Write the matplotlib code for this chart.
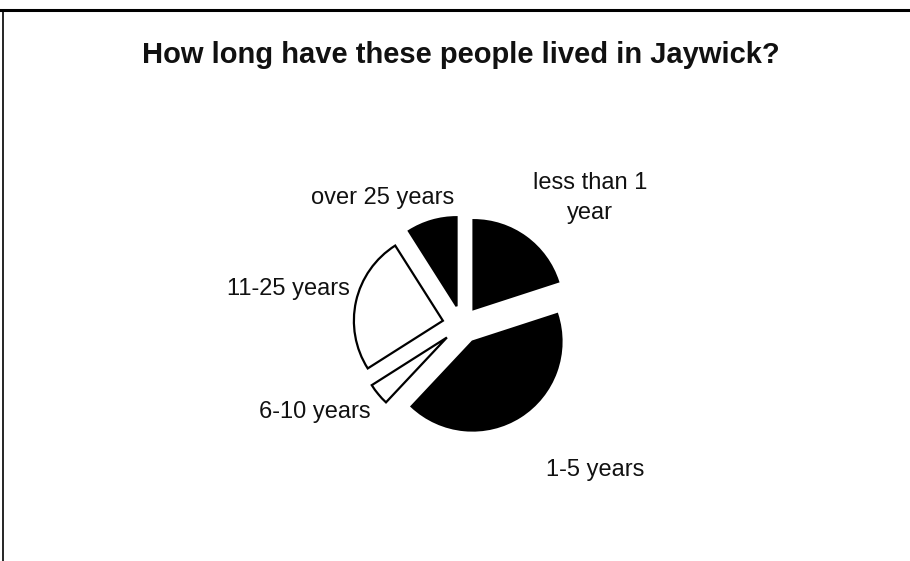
import matplotlib
matplotlib.use("Agg")
import matplotlib.pyplot as plt
from matplotlib.lines import Line2D

categories = ["less than 1\nyear", "1-5 years", "6-10 years", "11-25 years", "over 25 years"]
values = [20, 42, 4, 25, 9]
colors = ["black", "black", "white", "white", "black"]
title = "How long have these people lived in Jaywick?"

plt.rcParams['font.family'] = ['Liberation Sans', 'DejaVu Sans']

fig = plt.figure(figsize=(9.1, 5.61), dpi=100)
ax = fig.add_axes([0, 0, 1, 1])

radius = 89
ax.pie(values, colors=colors, startangle=90, counterclock=False,
       explode=[0.22 * radius] * len(values), center=(462, 236), radius=radius,
       wedgeprops=dict(edgecolor='black', linewidth=1.6),
       frame=True)
ax.set_xlim(0, 910)
ax.set_ylim(0, 561)
ax.set_aspect('equal')
ax.axis('off')

label_pos = [(590, 363), (595, 91), (315, 149), (288, 272), (383, 363)]
for lab, (x, y) in zip(categories, label_pos):
    ax.text(x, y, lab, ha='center', va='center', fontsize=17,
            linespacing=1.45, color='#111111')

ax.text(461, 498, title, ha='center', va='baseline', fontsize=21,
        fontweight='bold', color='#111111')

# frame lines (top and left)
fig.add_artist(Line2D([0.0, 1.0], [1 - 10 / 561, 1 - 10 / 561], color='black', linewidth=2.2))
fig.add_artist(Line2D([3 / 910, 3 / 910], [0, 1 - 10 / 561], color='black', linewidth=1.2))

fig.savefig("out.png", dpi=100, facecolor='white')
